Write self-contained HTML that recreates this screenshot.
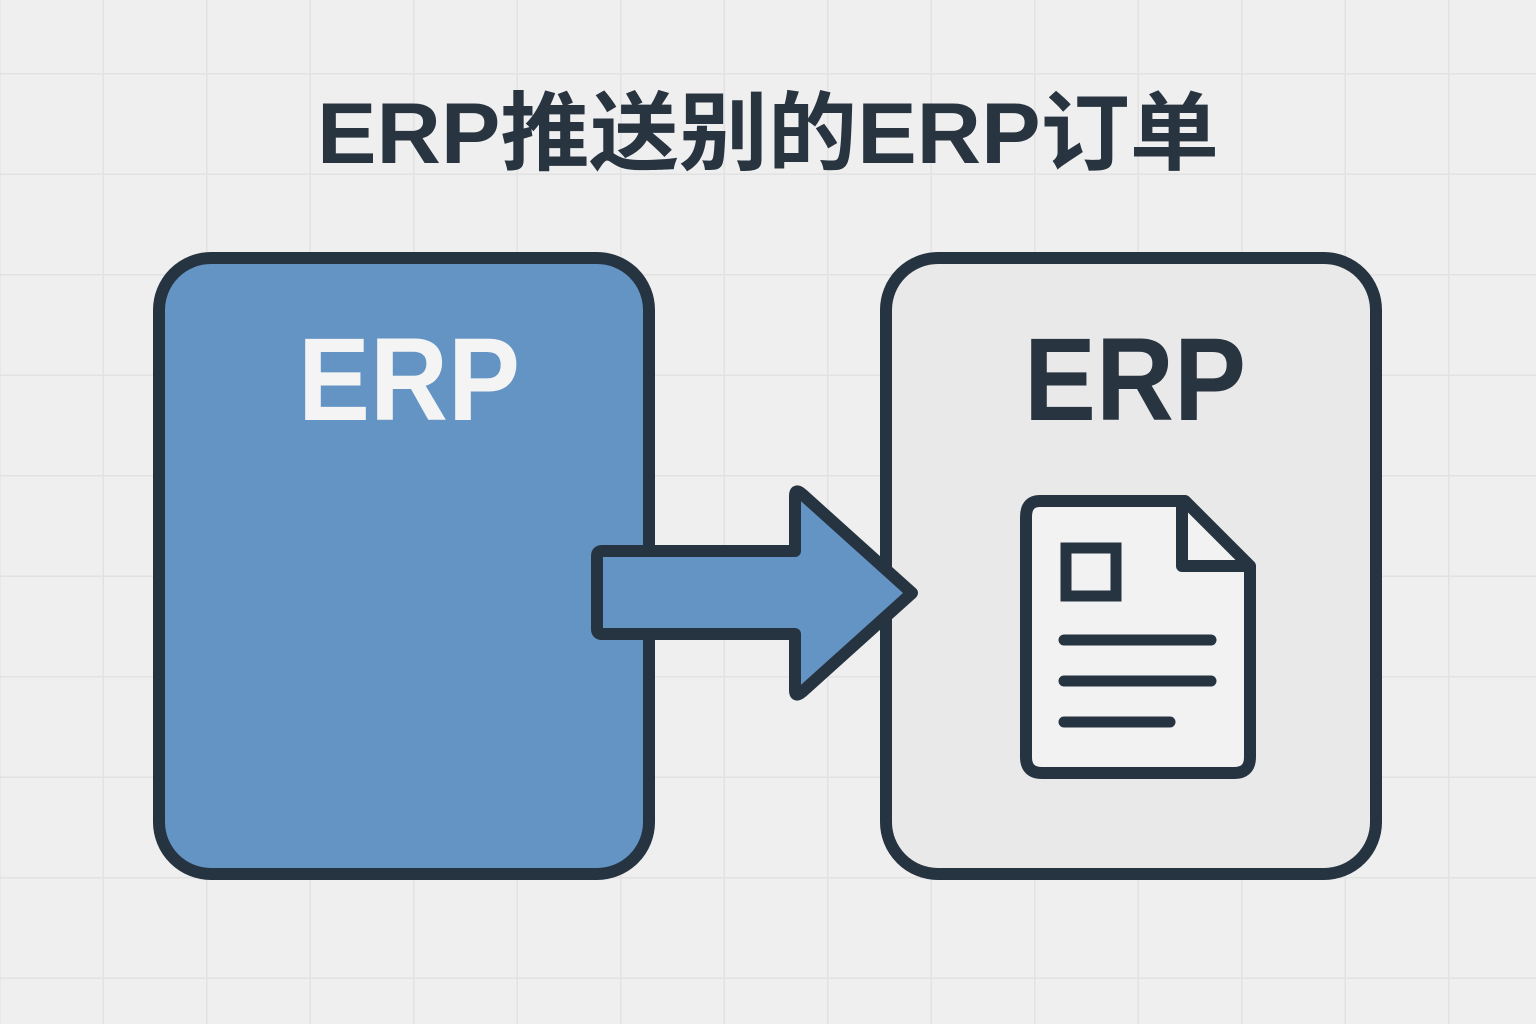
<!DOCTYPE html>
<html><head><meta charset="utf-8"><style>
html,body{margin:0;padding:0;background:#efefef;}
svg{display:block;}
</style></head><body>
<svg width="1536" height="1024" viewBox="0 0 1536 1024" xmlns="http://www.w3.org/2000/svg">
<defs>
<pattern id="g" width="103.5" height="100.5" patternUnits="userSpaceOnUse" x="0.5" y="-26">
<path d="M103.5 0V100.5M0 100.5H103.5" stroke="#e2e2e2" stroke-width="3" fill="none"/>
</pattern>
</defs>
<rect width="1536" height="1024" fill="#efefef"/>
<rect width="1536" height="1024" fill="url(#g)"/>
<text x="768" y="163" text-anchor="middle" textLength="902" lengthAdjust="spacingAndGlyphs" font-family="Liberation Sans, Noto Sans CJK SC, sans-serif" font-weight="bold" font-size="86" fill="#283440">ERP推送别的ERP订单</text>
<rect x="159" y="258" width="490" height="616" rx="52" fill="#6394c4" stroke="#263340" stroke-width="12"/>
<rect x="886" y="258" width="490" height="616" rx="52" fill="#e9e9e9" stroke="#263340" stroke-width="12"/>
<text x="409" y="420" text-anchor="middle" textLength="222" lengthAdjust="spacingAndGlyphs" font-family="Liberation Sans, sans-serif" font-weight="bold" font-size="118" fill="#f4f4f4">ERP</text>
<text x="1135" y="420" text-anchor="middle" textLength="222" lengthAdjust="spacingAndGlyphs" font-family="Liberation Sans, sans-serif" font-weight="bold" font-size="118" fill="#283440">ERP</text>
<path d="M602 551H795V496Q795 488 802 494L912 593L802 692Q795 698 795 690V634H602Q597 634 597 629V556Q597 551 602 551Z" fill="#6394c4" stroke="#263340" stroke-width="12" stroke-linejoin="round"/>
<path d="M1040 501H1185L1250 566V757Q1250 773 1234 773H1042Q1026 773 1026 757V517Q1026 501 1040 501Z" fill="#f2f2f2" stroke="#263340" stroke-width="12" stroke-linejoin="round"/>
<path d="M1182 503V566H1248" fill="none" stroke="#263340" stroke-width="12" stroke-linejoin="round"/>
<rect x="1066" y="548" width="50" height="48" fill="#f2f2f2" stroke="#263340" stroke-width="11"/>
<g stroke="#263340" stroke-width="11" stroke-linecap="round">
<line x1="1064" y1="640" x2="1211" y2="640"/>
<line x1="1064" y1="681" x2="1211" y2="681"/>
<line x1="1064" y1="722" x2="1170" y2="722"/>
</g>
</svg>
</body></html>
